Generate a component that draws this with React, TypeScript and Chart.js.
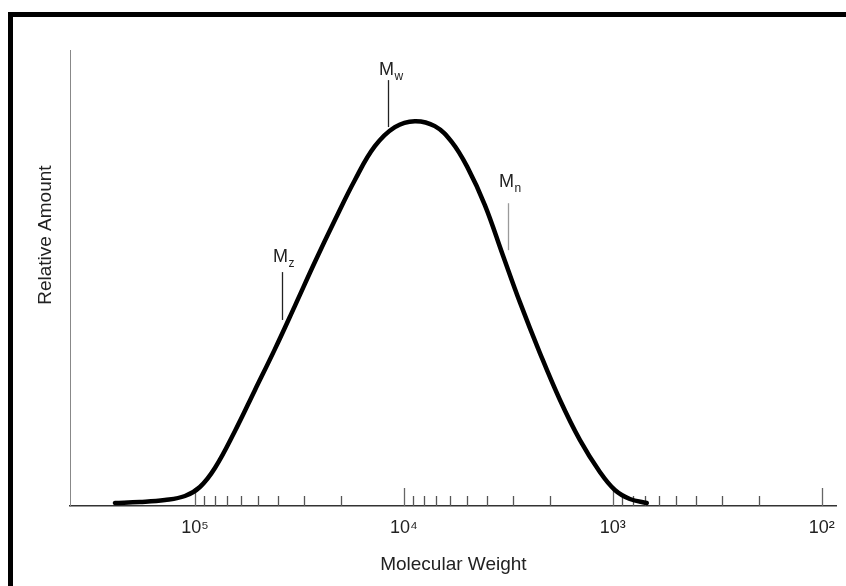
import React, { useEffect, useRef } from 'react';
import { Chart, registerables } from 'chart.js';

Chart.register(...registerables);

// Distribution curve (molecular weight, relative amount 0-100)
const molecularWeights = [
  241400, 183400, 139200, 111600, 94640, 80210, 64380, 51640, 41420, 33220,
  26660, 21380, 17150, 13770, 11040, 8860, 7110, 5892, 4941, 4097,
  3360, 2786, 2236, 1793, 1439, 1154, 978, 829, 688,
];
const relativeAmounts = [
  0.66, 0.88, 1.32, 2.19, 4.17, 8.33, 16.4, 25.4, 34.4, 43.9,
  53.5, 62.7, 71.5, 78.9, 83.1, 84.4, 83.3, 79.8, 74.1, 66.0,
  55.0, 44.7, 33.6, 23.3, 14.5, 7.46, 3.51, 1.54, 0.66,
];

// Axis ticks
const majorTicks = [100000, 10000, 1000, 100];
const majorTickLabels = ['10\u2075', '10\u2074', '10\u00B3', '10\u00B2'];
const minorTicks = [
  90000, 80000, 70000, 60000, 50000, 40000, 30000, 20000,
  9000, 8000, 7000, 6000, 5000, 4000, 3000, 2000,
  900, 800, 700, 600, 500, 400, 300, 200,
];

// Molecular weight averages
const averageSubscripts = ['z', 'w', 'n'];
const averageMW = [38350, 11930, 3180];
const averageLow = [40.8, 83.1, 56.1];
const averageHigh = [51.3, 93.4, 66.4];
const averageLabelLevel = [53.5, 94.5, 70.0];
const averageColors = ['#222', '#222', '#9a9a9a'];

const FONT = '"Liberation Sans", Arial, Helvetica, sans-serif';

const decorPlugin = {
  id: 'decor',
  beforeDatasetsDraw(chart: any) {
    const { ctx, scales } = chart;
    const x = scales.x;
    const y = scales.y;
    const base = y.getPixelForValue(0);
    ctx.save();
    ctx.strokeStyle = '#555';
    ctx.lineWidth = 1.3;
    minorTicks.forEach((v) => {
      const px = Math.round(x.getPixelForValue(v)) + 0.5;
      ctx.beginPath();
      ctx.moveTo(px, base);
      ctx.lineTo(px, base - 10);
      ctx.stroke();
    });
    ctx.strokeStyle = '#666';
    majorTicks.forEach((v) => {
      const px = Math.round(x.getPixelForValue(v)) + 0.5;
      ctx.beginPath();
      ctx.moveTo(px, base);
      ctx.lineTo(px, base - 18);
      ctx.stroke();
    });
    ctx.restore();
  },
  afterDatasetsDraw(chart: any) {
    const { ctx, scales, chartArea } = chart;
    const x = scales.x;
    const y = scales.y;
    ctx.save();
    averageMW.forEach((m, i) => {
      const px = Math.round(x.getPixelForValue(m)) + 0.5;
      ctx.strokeStyle = averageColors[i];
      ctx.lineWidth = 1.3;
      ctx.beginPath();
      ctx.moveTo(px, y.getPixelForValue(averageHigh[i]));
      ctx.lineTo(px, y.getPixelForValue(averageLow[i]));
      ctx.stroke();
      const ly = y.getPixelForValue(averageLabelLevel[i]);
      ctx.fillStyle = '#222';
      ctx.font = `18px ${FONT}`;
      ctx.textAlign = 'center';
      ctx.textBaseline = 'alphabetic';
      const mw = ctx.measureText('M').width;
      ctx.fillText('M', px - 2, ly);
      ctx.font = `12px ${FONT}`;
      ctx.textAlign = 'left';
      ctx.fillText(averageSubscripts[i], px - 2 + mw / 2 + 0.5, ly + 5);
    });
    // y axis title
    ctx.fillStyle = '#222';
    ctx.font = `19px ${FONT}`;
    ctx.textAlign = 'center';
    ctx.textBaseline = 'middle';
    ctx.translate(chartArea.left - 24, y.getPixelForValue(59.4));
    ctx.rotate(-Math.PI / 2);
    ctx.fillText('Relative Amount', 0, 0);
    ctx.restore();
  },
};

export default function App() {
  const canvasRef = useRef<HTMLCanvasElement | null>(null);

  useEffect(() => {
    const canvas = canvasRef.current;
    if (!canvas) return;
    const chart = new Chart(canvas, {
      type: 'line',
      data: {
        datasets: [
          {
            data: molecularWeights.map((m, i) => ({ x: m, y: relativeAmounts[i] })),
            borderColor: '#000',
            borderWidth: 4.5,
            pointRadius: 0,
            tension: 0.4,
            fill: false,
            borderCapStyle: 'round',
            borderJoinStyle: 'round',
          } as any,
        ],
      },
      options: {
        responsive: false,
        animation: false,
        devicePixelRatio: 1,
        layout: { padding: { top: 50, right: 8, left: 0, bottom: 0 } },
        plugins: {
          legend: { display: false },
          tooltip: { enabled: false },
        },
        scales: {
          x: {
            type: 'logarithmic',
            reverse: true,
            min: 84.8,
            max: 396000,
            afterBuildTicks: (s: any) => {
              s.ticks = majorTicks.map((v) => ({ value: v }));
            },
            afterFit: (s: any) => {
              s.height = 80;
            },
            ticks: {
              autoSkip: false,
              maxRotation: 0,
              padding: 11,
              color: '#222',
              font: { family: FONT, size: 18 },
              callback: (value: any) => {
                const i = majorTicks.indexOf(Number(value));
                return i >= 0 ? majorTickLabels[i] : '';
              },
            },
            grid: { display: false, drawTicks: false },
            border: { display: true, color: '#333', width: 1.5 },
            title: {
              display: true,
              text: 'Molecular Weight',
              color: '#222',
              font: { family: FONT, size: 19 },
              padding: { top: 0, bottom: 10 },
            },
          } as any,
          y: {
            type: 'linear',
            min: 0,
            max: 100,
            afterFit: (s: any) => {
              s.width = 70;
            },
            ticks: { display: false },
            grid: { display: false, drawTicks: false },
            border: { display: true, color: '#888', width: 1 },
          } as any,
        },
      },
      plugins: [decorPlugin],
    });
    return () => chart.destroy();
  }, []);

  return (
    <div style={{ position: 'absolute', left: 0, top: 0, width: 846, height: 586, background: '#fff', overflow: 'hidden' }}>
      <canvas ref={canvasRef} width={846} height={586} style={{ position: 'absolute', left: 0, top: 0 }} />
      <div
        style={{
          position: 'absolute',
          left: 8,
          top: 12,
          right: 0,
          bottom: 0,
          borderLeft: '5px solid #000',
          borderTop: '5px solid #000',
          pointerEvents: 'none',
        }}
      />
    </div>
  );
}
